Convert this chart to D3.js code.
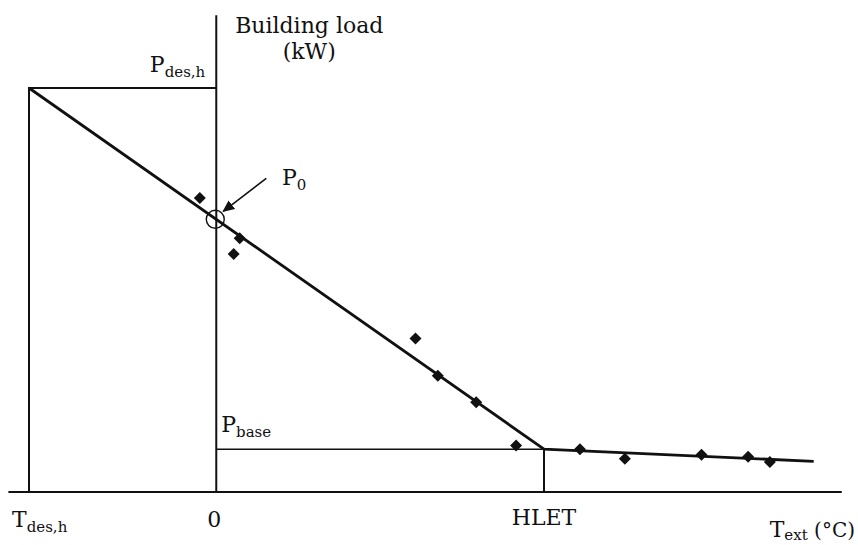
<!DOCTYPE html>
<html>
<head>
<meta charset="utf-8">
<script src="https://cdn.jsdelivr.net/npm/d3@7"></script>
<style>
  html, body { margin: 0; padding: 0; background: #fff; }
  svg { display: block; }
  text { font-family: "DejaVu Serif", serif; fill: #111; }
</style>
</head>
<body>
<svg id="chart" width="858" height="545"></svg>
<script>
// ---- data (temperature in °C, load in kW, schematic values) ----
const T_DES = -10;          // design temperature T_des,h
const HLET = 17.5;          // heating limit external temperature
const P_DES = 10;           // design load P_des,h
const P_BASE = 1.06;        // base load P_base
const P_ZERO = 6.75;        // load at 0 °C (P0)
const axisTempExtent = [-11.1, 33.4];
const axisLoadTop = 11.8;
const lineTemps = [-10, 17.5, 31.9];
const lineLoads = [10, 1.06, 0.76];
const obsTemps = [-0.88, 1.25, 0.93, 10.64, 11.83, 13.88, 16.01, 19.42, 21.82, 25.91, 28.40, 29.56];
const obsLoads = [7.28, 6.28, 5.89, 3.80, 2.88, 2.22, 1.15, 1.06, 0.82, 0.92, 0.87, 0.74];

// ---- layout ----
const svg = d3.select("#chart");
const x = d3.scaleLinear().domain([T_DES, HLET]).range([29, 544]);
const y = d3.scaleLinear().domain([0, P_DES]).range([492, 88]);
const ink = "#111";
const FS = 22, SUB = 15;

// axes
svg.append("line")
  .attr("x1", x(axisTempExtent[0])).attr("x2", x(axisTempExtent[1]))
  .attr("y1", y(0)).attr("y2", y(0))
  .attr("stroke", ink).attr("stroke-width", 2);
svg.append("line")
  .attr("x1", x(0)).attr("x2", x(0))
  .attr("y1", y(axisLoadTop)).attr("y2", y(0))
  .attr("stroke", ink).attr("stroke-width", 2);

// design temperature guides
svg.append("path")
  .attr("d", d3.line()([[x(T_DES), y(0)], [x(T_DES), y(P_DES)], [x(0), y(P_DES)]]))
  .attr("fill", "none").attr("stroke", ink).attr("stroke-width", 2);

// base load guide + HLET vertical
svg.append("line")
  .attr("x1", x(0)).attr("x2", x(HLET))
  .attr("y1", y(P_BASE)).attr("y2", y(P_BASE))
  .attr("stroke", ink).attr("stroke-width", 1.5);
svg.append("line")
  .attr("x1", x(HLET)).attr("x2", x(HLET))
  .attr("y1", y(P_BASE)).attr("y2", y(0))
  .attr("stroke", ink).attr("stroke-width", 2);

// load line
svg.append("path")
  .datum(lineTemps.map((t, i) => [t, lineLoads[i]]))
  .attr("d", d3.line().x(d => x(d[0])).y(d => y(d[1])))
  .attr("fill", "none").attr("stroke", ink).attr("stroke-width", 2.8)
  .attr("stroke-linejoin", "miter");

// observations
svg.append("g").selectAll("path")
  .data(obsTemps.map((t, i) => [t, obsLoads[i]]))
  .join("path")
  .attr("d", d3.symbol(d3.symbolSquare, 72)())
  .attr("transform", d => `translate(${x(d[0])},${y(d[1])}) rotate(45)`)
  .attr("fill", ink);

// P0 marker
svg.append("circle")
  .attr("cx", x(0) - 1).attr("cy", y(P_ZERO))
  .attr("r", 9).attr("fill", "none").attr("stroke", ink).attr("stroke-width", 1.4);

// arrow
svg.append("defs").append("marker")
  .attr("id", "arrow").attr("viewBox", "0 0 10 10")
  .attr("refX", 9).attr("refY", 5)
  .attr("markerWidth", 12).attr("markerHeight", 12)
  .attr("markerUnits", "userSpaceOnUse")
  .attr("orient", "auto")
  .append("path").attr("d", "M0,0.5 L10,5 L0,9.5 Z").attr("fill", ink);
svg.append("line")
  .attr("x1", x(0) + 50).attr("y1", y(P_ZERO) - 41)
  .attr("x2", x(0) + 7).attr("y2", y(P_ZERO) - 8)
  .attr("stroke", ink).attr("stroke-width", 1.6)
  .attr("marker-end", "url(#arrow)");

// labels
function label(px, py, main, sub, anchor, subDy) {
  const t = svg.append("text").attr("x", px).attr("y", py)
    .attr("font-size", FS).attr("text-anchor", anchor || "start");
  t.append("tspan").text(main);
  if (sub) {
    t.append("tspan").attr("font-size", SUB).attr("dy", subDy || 5).text(sub);
  }
  return t;
}
label(x(0) + 93, 32.5, "Building load", null, "middle");
label(x(0) + 93, 59, "(kW)", null, "middle");
label(x(0) - 11, y(P_DES) - 16, "P", "des,h", "end");
label(282, y(P_ZERO) - 34, "P", "0");
label(x(0) + 5, y(P_BASE) - 17, "P", "base");
label(12, 526.5, "T", "des,h");
label(x(0) - 2, 526.5, "0", null, "middle");
label(x(HLET), 525, "HLET", null, "middle");
const te = label(855, 537, "T", "ext", "end", 3);
te.append("tspan").attr("dy", -3).attr("font-size", 20).text(" (°C)");
</script>
</body>
</html>
